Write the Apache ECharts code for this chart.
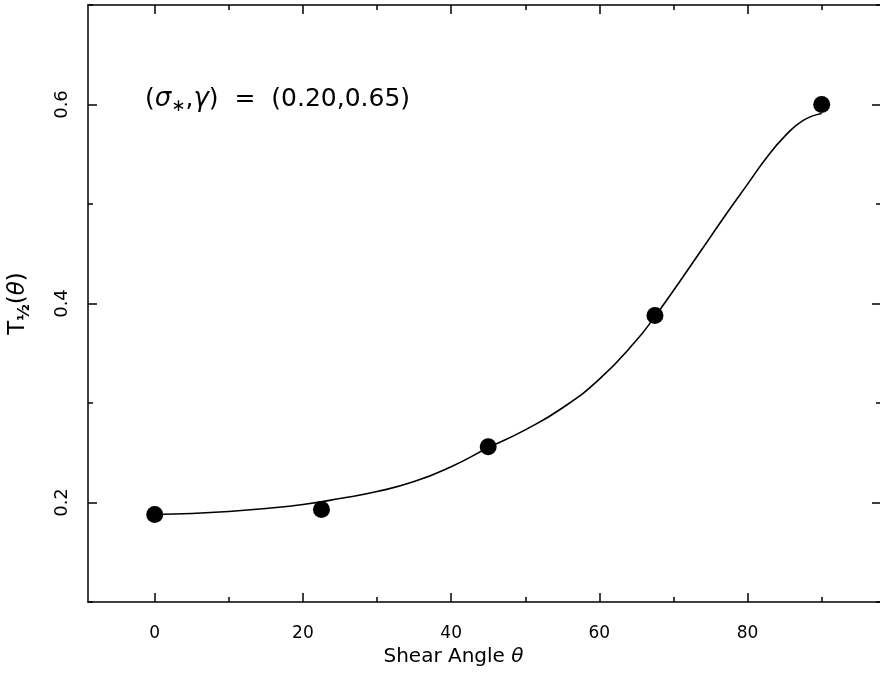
<!DOCTYPE html>
<html>
<head>
<meta charset="utf-8">
<script src="https://cdn.jsdelivr.net/npm/echarts@6/dist/echarts.min.js"></script>
<style>
  html, body { margin: 0; padding: 0; background: #fff; }
  #chart { width: 880px; height: 696px; }
</style>
</head>
<body>
<div id="chart"></div>
<script>
// Measured half-life points at each shear angle
const shearAngles = [0, 22.5, 45, 67.5, 90];
const halfLife = [0.188, 0.193, 0.256, 0.388, 0.600];

// Model curve for (sigma*, gamma) = (0.20, 0.65)
const curveAngles = [0, 5, 10, 15, 20, 25, 30, 35, 40, 45, 50, 55, 60, 65, 67.5, 70, 72.5, 75, 77.5, 80, 82.5, 85, 87.5, 90];
const curveValues = [0.188, 0.189, 0.191, 0.194, 0.198, 0.204, 0.211, 0.221, 0.236, 0.255, 0.273, 0.295, 0.324, 0.363, 0.387, 0.413, 0.440, 0.467, 0.494, 0.520, 0.546, 0.568, 0.584, 0.591];

// Tick positions
const xMajorTicks = [0, 20, 40, 60, 80];
const xMinorTicks = [10, 30, 50, 70, 90];
const yMajorTicks = [0.2, 0.4, 0.6];
const yMinorTicks = [0.1, 0.3, 0.5, 0.7];

const FONT = '"DejaVu Sans", Verdana, sans-serif';
const INK = '#000';

const chart = echarts.init(document.getElementById('chart'), null, { renderer: 'canvas' });

function xAxisDef(position, ticks, len, showLabels, showLine) {
  return {
    type: 'value', min: -9, max: 98, position: position,
    axisLine: { show: showLine, onZero: false, lineStyle: { color: INK, width: 1.5 } },
    axisTick: { show: true, inside: true, length: len, customValues: ticks, lineStyle: { color: INK, width: 1.5 } },
    axisLabel: { show: showLabels, customValues: xMajorTicks, margin: 23, fontSize: 17, color: INK, fontFamily: FONT },
    splitLine: { show: false }
  };
}

function yAxisDef(position, ticks, len, showLabels, showLine) {
  return {
    type: 'value', min: 0.1, max: 0.7, position: position,
    axisLine: { show: showLine, onZero: false, lineStyle: { color: INK, width: 1.5 } },
    axisTick: { show: true, inside: true, length: len, customValues: ticks, lineStyle: { color: INK, width: 1.5 } },
    axisLabel: {
      show: showLabels, customValues: yMajorTicks, rotate: 90, margin: 17,
      fontSize: 18, color: INK, fontFamily: FONT,
      formatter: v => v.toFixed(1)
    },
    splitLine: { show: false }
  };
}

const xMain = xAxisDef('bottom', xMajorTicks, 9, true, true);
xMain.name = 'Shear Angle {it|θ}';
xMain.nameLocation = 'middle';
xMain.nameGap = 43;
xMain.nameTextStyle = {
  fontSize: 20, color: INK, fontFamily: FONT, padding: [0, 62, 0, 0],
  rich: { it: { fontSize: 20, fontStyle: 'italic', fontFamily: FONT, color: INK } }
};

const yMain = yAxisDef('left', yMajorTicks, 9, true, true);
yMain.name = 'T{sub|½}({it|θ})';
yMain.nameLocation = 'middle';
yMain.nameRotate = 90;
yMain.nameGap = 55;
yMain.nameTextStyle = {
  fontSize: 23, color: INK, fontFamily: FONT,
  rich: {
    sub: { fontSize: 16, fontWeight: 'bold', fontFamily: FONT, color: INK, padding: [13, 0, 0, 0] },
    it: { fontSize: 23, fontStyle: 'italic', fontFamily: FONT, color: INK }
  }
};

const option = {
  backgroundColor: '#fff',
  animation: false,
  grid: { left: 88, top: 5, width: 793, height: 597, containLabel: false, outerBoundsMode: 'none' },
  xAxis: [
    xMain,
    xAxisDef('bottom', xMinorTicks, 5, false, false),
    xAxisDef('top', xMajorTicks, 9, false, true),
    xAxisDef('top', xMinorTicks, 5, false, false)
  ],
  yAxis: [
    yMain,
    yAxisDef('left', yMinorTicks, 5, false, false),
    yAxisDef('right', yMajorTicks, 9, false, true),
    yAxisDef('right', yMinorTicks, 5, false, false)
  ],
  graphic: [{
    type: 'text',
    left: 145, top: 86,
    style: {
      text: '({g|σ}{sub|∗},{g|γ})  =  (0.20,0.65)',
      fontSize: 25, fontFamily: FONT, fill: INK,
      rich: {
        g: { fontSize: 26, fontFamily: FONT, fontStyle: 'italic', fill: INK },
        sub: { fontSize: 17, fontFamily: FONT, fill: INK, padding: [16, 0, 0, 0] }
      }
    }
  }],
  series: [
    {
      type: 'line',
      data: curveAngles.map((a, i) => [a, curveValues[i]]),
      xAxisIndex: 0, yAxisIndex: 0,
      smooth: 0.5,
      showSymbol: false,
      lineStyle: { color: INK, width: 1.6 },
      z: 2
    },
    {
      type: 'scatter',
      data: shearAngles.map((a, i) => [a, halfLife[i]]),
      xAxisIndex: 0, yAxisIndex: 0,
      symbol: 'circle',
      symbolSize: 17,
      itemStyle: { color: INK, opacity: 1 },
      z: 3
    }
  ]
};

chart.setOption(option);
</script>
</body>
</html>
